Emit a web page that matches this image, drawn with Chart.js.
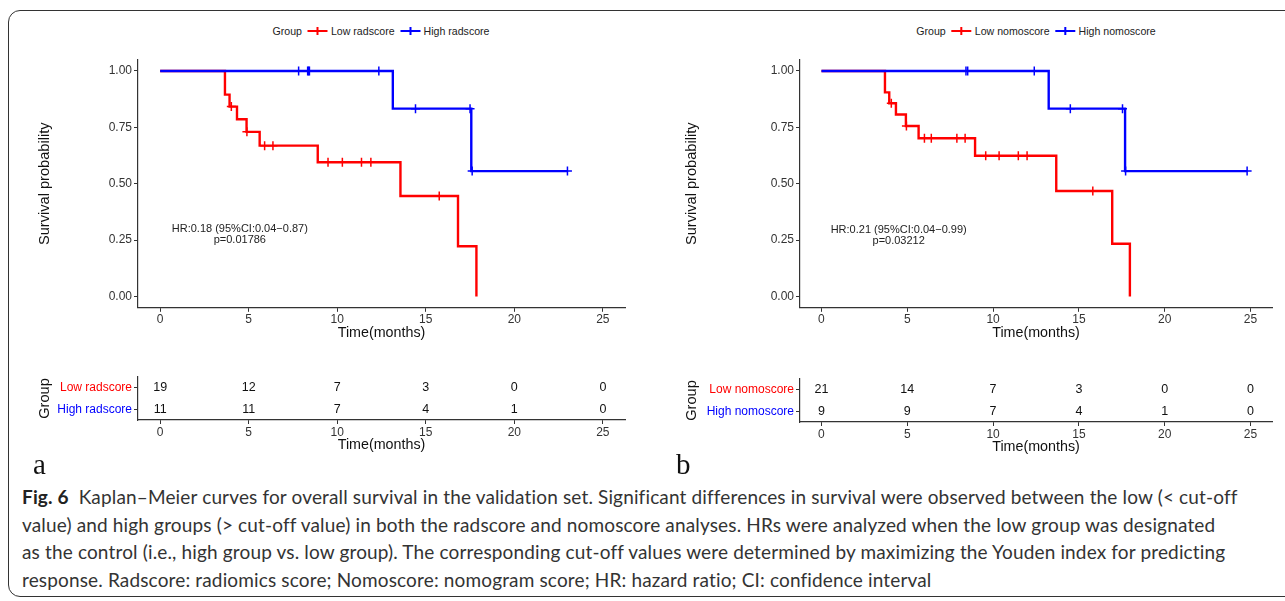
<!DOCTYPE html>
<html>
<head>
<meta charset="utf-8">
<script src="https://cdn.jsdelivr.net/npm/chart.js@4.4.0/dist/chart.umd.min.js"></script>
<style>
  body { margin: 0; background: #fff; width: 1285px; height: 601px; overflow: hidden; position: relative; font-family: "Liberation Sans", Arial, sans-serif; }
  .frame { position: absolute; left: 8px; top: 10px; width: 1300px; height: 587px; border: 1.3px solid #333; border-radius: 12px; box-sizing: border-box; }
  .box { position: absolute; }
  .legend { position: absolute; top: 25px; font-size: 10.6px; color: #222; display: flex; align-items: center; white-space: nowrap; transform: translateX(-50%); }
  .mk { display: inline-block; position: relative; width: 20px; height: 2px; margin: 0 3px 0 6px; }
  .mk::after { content: ""; position: absolute; left: 9px; top: -3px; width: 2px; height: 8px; background: inherit; }
  .panel { position: absolute; top: 448px; font-family: "Liberation Serif", "DejaVu Serif", serif; font-size: 29px; color: #111; }
  .caption { position: absolute; left: 22px; top: 483px; font-family: Lato, "Open Sans", sans-serif; font-size: 19px; letter-spacing: 0.15px; line-height: 27.6px; color: #333; white-space: nowrap; }
  .caption b { color: #222; }
</style>
</head>
<body>
<div class="frame"></div>

<div class="legend" style="left:381px">Group<span class="mk" style="background:#ff0000"></span>Low radscore<span class="mk" style="background:#0000ff"></span>High radscore</div>
<div class="legend" style="left:1036px">Group<span class="mk" style="background:#ff0000"></span>Low nomoscore<span class="mk" style="background:#0000ff"></span>High nomoscore</div>

<div class="box" style="left:20px;top:45px"><canvas id="kmA" width="615" height="300"></canvas></div>
<div class="box" style="left:670px;top:45px"><canvas id="kmB" width="612" height="300"></canvas></div>
<div class="box" style="left:20px;top:365px"><canvas id="riskA" width="615" height="95"></canvas></div>
<div class="box" style="left:670px;top:367px"><canvas id="riskB" width="612" height="95"></canvas></div>

<div class="panel" style="left:33px">a</div>
<div class="panel" style="left:676px">b</div>

<div class="caption"><b>Fig. 6</b>&nbsp; Kaplan–Meier curves for overall survival in the validation set. Significant differences in survival were observed between the low (&lt; cut-off<br>value) and high groups (&gt; cut-off value) in both the radscore and nomoscore analyses. HRs were analyzed when the low group was designated<br>as the control (i.e., high group vs. low group). The corresponding cut-off values were determined by maximizing the Youden index for predicting<br>response. Radscore: radiomics score; Nomoscore: nomogram score; HR: hazard ratio; CI: confidence interval</div>

<script>
// ---- data ----
const xTicks = [0, 5, 10, 15, 20, 25];
const yTicks = [0, 0.25, 0.5, 0.75, 1];

// (a) radscore
const lowRadTime = [0, 3.66, 3.92, 4.34, 4.88, 5.62, 8.9, 13.57, 16.82, 17.86];
const lowRadSurv = [1, 0.895, 0.842, 0.786, 0.730, 0.669, 0.595, 0.446, 0.223, 0];
const lowRadCensTime = [4.02, 4.9, 5.9, 6.37, 9.48, 10.29, 11.37, 11.9, 15.76];
const lowRadCensSurv = [0.842, 0.730, 0.669, 0.669, 0.595, 0.595, 0.595, 0.595, 0.446];
const highRadTime = [0, 13.14, 17.57, 23.0];
const highRadSurv = [1, 0.833, 0.556, 0.556];
const highRadCensTime = [7.82, 8.33, 8.38, 8.43, 12.35, 14.42, 17.5, 17.62, 23.0];
const highRadCensSurv = [1, 1, 1, 1, 1, 0.833, 0.833, 0.556, 0.556];

// (b) nomoscore
const lowNomoTime = [0, 3.7, 3.95, 4.34, 4.92, 5.66, 8.95, 13.68, 16.94, 17.97];
const lowNomoSurv = [1, 0.905, 0.857, 0.807, 0.756, 0.702, 0.624, 0.468, 0.234, 0];
const lowNomoCensTime = [4.07, 4.95, 6.0, 6.4, 7.89, 8.37, 9.57, 10.35, 11.47, 11.98, 15.81];
const lowNomoCensSurv = [0.857, 0.756, 0.702, 0.702, 0.702, 0.702, 0.624, 0.624, 0.624, 0.624, 0.468];
const highNomoTime = [0, 13.24, 17.69, 24.8];
const highNomoSurv = [1, 0.833, 0.556, 0.556];
const highNomoCensTime = [8.42, 8.52, 12.4, 14.5, 17.54, 17.72, 24.8];
const highNomoCensSurv = [1, 1, 1, 0.833, 0.833, 0.556, 0.556];

// numbers at risk
const riskTime = [0, 5, 10, 15, 20, 25];
const groupsA = ['Low radscore', 'High radscore'];
const lowRadRisk = [19, 12, 7, 3, 0, 0];
const highRadRisk = [11, 11, 7, 4, 1, 0];
const groupsB = ['Low nomoscore', 'High nomoscore'];
const lowNomoRisk = [21, 14, 7, 3, 0, 0];
const highNomoRisk = [9, 9, 7, 4, 1, 0];

const hrA = 'HR:0.18 (95%CI:0.04\u22120.87)', pA = 'p=0.01786';
const hrB = 'HR:0.21 (95%CI:0.04\u22120.99)', pB = 'p=0.03212';

const RED = '#ff0000', BLUE = '#0000ff';

Chart.defaults.font.family = '"Liberation Sans", Arial, sans-serif';
Chart.defaults.color = '#333';
Chart.defaults.animation = false;

function pts(xs, ys) { return xs.map((x, i) => ({x: x, y: ys[i]})); }

// text placed with the chart's scales
const notePlugin = {
  id: 'note',
  afterDatasetsDraw(chart, args, opts) {
    if (!opts.lines) return;
    const ctx = chart.ctx, x = chart.scales.x, y = chart.scales.y;
    ctx.save();
    ctx.font = '11px "Liberation Sans", Arial, sans-serif';
    ctx.fillStyle = '#222';
    ctx.textAlign = 'center';
    ctx.textBaseline = 'middle';
    opts.lines.forEach(l => ctx.fillText(l.text, x.getPixelForValue(l.x), y.getPixelForValue(l.y)));
    ctx.restore();
  }
};

// numbers at risk drawn at the point positions
const riskPlugin = {
  id: 'riskNums',
  afterDatasetsDraw(chart) {
    const ctx = chart.ctx;
    ctx.save();
    ctx.font = '12.5px "Liberation Sans", Arial, sans-serif';
    ctx.fillStyle = '#111';
    ctx.textAlign = 'center';
    ctx.textBaseline = 'middle';
    chart.data.datasets.forEach((ds, i) => {
      chart.getDatasetMeta(i).data.forEach((p, j) => ctx.fillText(String(ds.counts[j]), p.x, p.y));
    });
    ctx.restore();
  }
};

function axisX(titlePad) {
  return {
    type: 'linear', min: -1.25, max: 26.25,
    afterBuildTicks: s => { s.ticks = xTicks.map(v => ({value: v})); },
    afterFit: s => { s.height = titlePad.h; },
    ticks: {font: {size: 12}, color: '#333', padding: 1},
    grid: {drawOnChartArea: false, drawTicks: true, tickLength: 4, color: '#333'},
    border: {display: true, color: '#333', width: 1.2},
    title: {display: true, text: 'Time(months)', font: {size: 14.3}, color: '#111', padding: {top: 0, bottom: titlePad.b}}
  };
}

function kmChart(id, yW, titleTop, low, high, notes) {
  new Chart(document.getElementById(id), {
    type: 'line',
    data: {
      datasets: [
        {data: pts(high.ct, high.cs), showLine: false, pointStyle: 'cross', pointRadius: 4.5, borderColor: BLUE, borderWidth: 1.5},
        {data: pts(high.t, high.s), stepped: true, borderColor: BLUE, borderWidth: 2.4, pointRadius: 0, fill: false},
        {data: pts(low.ct, low.cs), showLine: false, pointStyle: 'cross', pointRadius: 4.5, borderColor: RED, borderWidth: 1.5},
        {data: pts(low.t, low.s), stepped: true, borderColor: RED, borderWidth: 2.4, pointRadius: 0, fill: false}
      ]
    },
    options: {
      responsive: false,
      layout: {padding: {top: 14.7, right: 10, left: 0, bottom: 0}},
      plugins: {legend: {display: false}, tooltip: {enabled: false}, note: {lines: notes}},
      scales: {
        x: axisX({h: 37.2, b: 3.6}),
        y: {
          min: -0.05, max: 1.05,
          afterBuildTicks: s => { s.ticks = yTicks.map(v => ({value: v})); },
          afterFit: s => { s.width = yW; },
          ticks: {font: {size: 12}, color: '#333', padding: 2, callback: v => Number(v).toFixed(2)},
          grid: {drawOnChartArea: false, drawTicks: true, tickLength: 4, color: '#333'},
          border: {display: true, color: '#333', width: 1.2},
          title: {display: true, text: 'Survival probability', font: {size: 14.6}, color: '#111', padding: {top: titleTop, bottom: 0}}
        }
      }
    },
    plugins: [notePlugin]
  });
}

function riskChart(id, yW, titleTop, groups, lowRisk, highRisk) {
  new Chart(document.getElementById(id), {
    type: 'line',
    data: {
      datasets: [
        {data: riskTime.map(t => ({x: t, y: groups[0]})), counts: lowRisk, showLine: false, pointRadius: 0},
        {data: riskTime.map(t => ({x: t, y: groups[1]})), counts: highRisk, showLine: false, pointRadius: 0}
      ]
    },
    options: {
      responsive: false,
      layout: {padding: {top: 12, right: 10, left: 0, bottom: 0}},
      plugins: {legend: {display: false}, tooltip: {enabled: false}},
      scales: {
        x: axisX({h: 40, b: 6.6}),
        y: {
          type: 'category', labels: groups, offset: true,
          afterFit: s => { s.width = yW; },
          ticks: {font: {size: 12}, padding: 2, color: c => (c.index === 0 ? RED : BLUE)},
          grid: {drawOnChartArea: false, drawTicks: true, tickLength: 4, color: '#333', offset: false},
          border: {display: true, color: '#333', width: 1.2},
          title: {display: true, text: 'Group', font: {size: 14.6}, color: '#111', padding: {top: titleTop, bottom: 0}}
        }
      }
    },
    plugins: [riskPlugin]
  });
}

kmChart('kmA', 118, 16.3,
  {t: lowRadTime, s: lowRadSurv, ct: lowRadCensTime, cs: lowRadCensSurv},
  {t: highRadTime, s: highRadSurv, ct: highRadCensTime, cs: highRadCensSurv},
  [{text: hrA, x: 4.5, y: 0.298}, {text: pA, x: 4.5, y: 0.249}]);

kmChart('kmB', 130, 13.3,
  {t: lowNomoTime, s: lowNomoSurv, ct: lowNomoCensTime, cs: lowNomoCensSurv},
  {t: highNomoTime, s: highNomoSurv, ct: highNomoCensTime, cs: highNomoCensSurv},
  [{text: hrB, x: 4.5, y: 0.296}, {text: pB, x: 4.5, y: 0.248}]);

riskChart('riskA', 118, 16.3, groupsA, lowRadRisk, highRadRisk);
riskChart('riskB', 130, 13.3, groupsB, lowNomoRisk, highNomoRisk);
</script>
</body>
</html>
